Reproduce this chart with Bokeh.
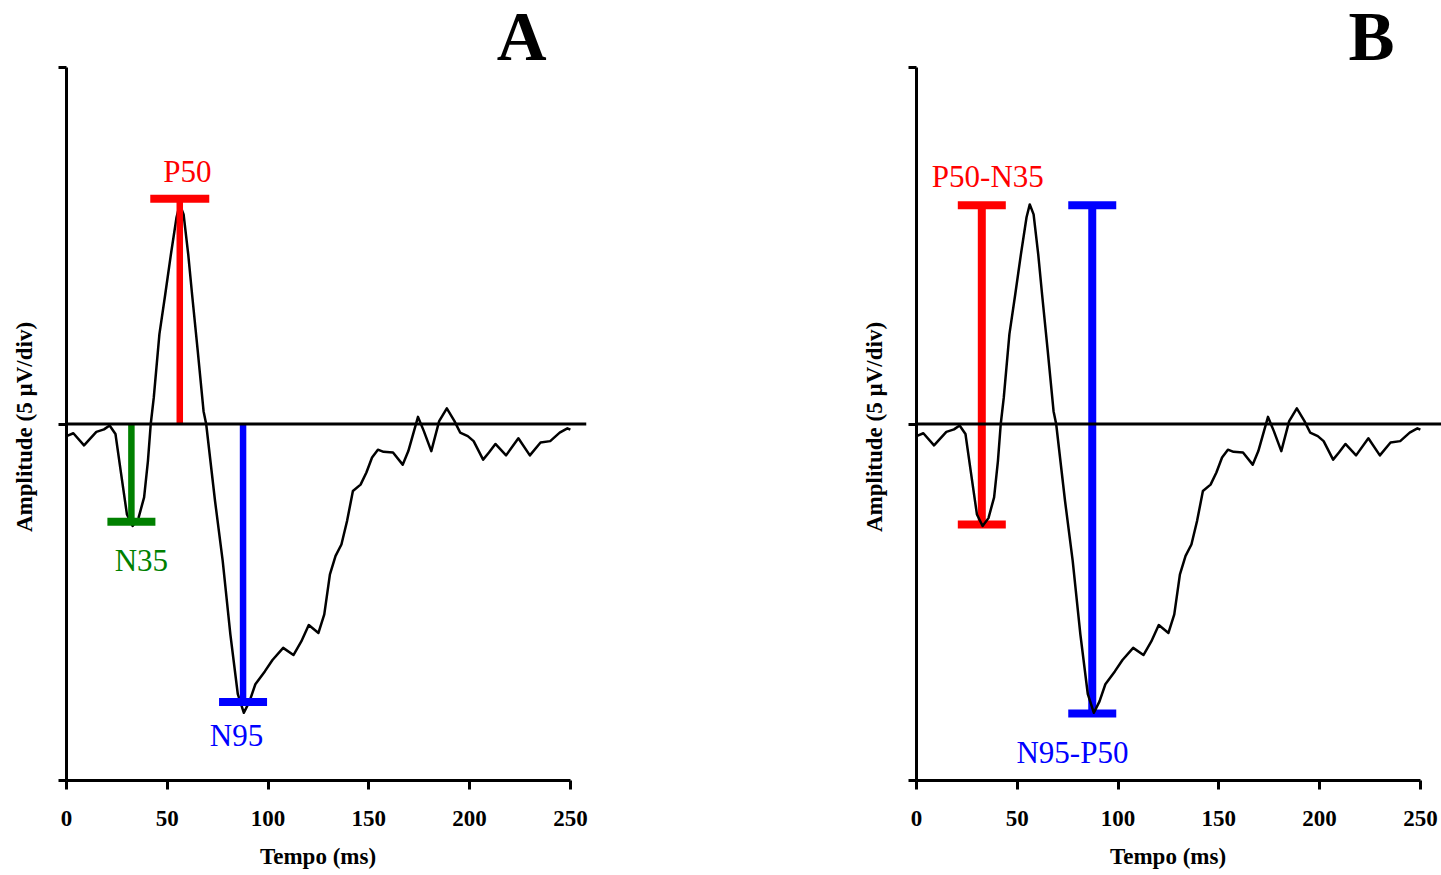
from bokeh.plotting import figure
from bokeh.models import Range1d, FixedTicker, Span, Label, Title, LinearAxis
from bokeh.layouts import row
from bokeh.embed import file_html
from bokeh.resources import INLINE

# Averaged PERG waveform: time (ms) and amplitude (µV)
time_ms = [0, 3.4, 8.7, 14.8, 18.6, 21.4, 24.3, 27.1, 30.0, 32.8, 35.7, 38.5, 40.4,
           41.8, 43.3, 46.1, 49.0, 51.8, 54.6, 56.2, 58.1, 60.4, 62.3, 65.1, 68.0,
           69.3, 73.7, 77.5, 81.3, 85.0, 88.0, 90.8, 93.7, 98.4, 102.2, 107.5,
           112.6, 116.5, 120.2, 125.0, 127.9, 130.7, 133.5, 136.4, 139.2, 142.1,
           145.9, 148.8, 151.6, 154.5, 157.3, 162.0, 166.8, 169.6, 174.4, 177.3,
           181.0, 184.9, 188.7, 192.5, 195.3, 199.1, 202.0, 206.7, 209.6, 212.8,
           218.1, 224.2, 229.9, 235.2, 240.0, 244.7, 248.5, 250.0]
amp_uv = [-0.17, -0.13, -0.30, -0.11, -0.075, -0.02, -0.14, -0.70, -1.27, -1.43, -1.32,
          -1.03, -0.52, 0.0, 0.37, 1.26, 1.82, 2.38, 2.90, 3.08, 2.94, 2.38, 1.82,
          1.03, 0.18, 0.0, -1.08, -1.92, -2.95, -3.79, -4.05, -3.89, -3.65, -3.47,
          -3.31, -3.14, -3.24, -3.05, -2.82, -2.93, -2.67, -2.11, -1.85, -1.69,
          -1.36, -0.94, -0.85, -0.68, -0.47, -0.36, -0.39, -0.40, -0.57, -0.38,
          0.10, -0.10, -0.38, 0.04, 0.22, 0.04, -0.12, -0.17, -0.24, -0.50, -0.40,
          -0.28, -0.44, -0.20, -0.44, -0.26, -0.24, -0.12, -0.06, -0.08]

x_ticks = [0, 50, 100, 150, 200, 250]
y_ticks = [-5, 0, 5]

# Panel A: latency/amplitude of each component
comp_names = ["P50", "N35", "N95"]
comp_time = [56.2, 32.2, 87.6]
comp_amp = [3.16, -1.37, -3.90]

# Panel B: peak-to-peak measurements
pp_names = ["P50-N35", "N95-P50"]
pp_time = [32.4, 87.2]
pp_top = [3.07, 3.07]
pp_bottom = [-1.41, -4.06]

RED, GREEN, BLUE = "#ff0000", "#008000", "#0000ff"
SERIF = "Liberation Serif"
PX_PER_MS = 520 / 258.0
BASE_SHIFT = 0.36  # em; lifts "alphabetic" labels onto their baseline


def spacer_axis(gap, tick):
    # blank axis (one white tick, no label) that only reserves room,
    # so the axis title sits further from the frame
    return LinearAxis(ticker=FixedTicker(ticks=[tick]), axis_line_color=None,
                      major_tick_line_color="white", major_tick_out=gap,
                      major_tick_in=0, minor_tick_out=0, minor_tick_in=0,
                      major_label_standoff=0, major_label_text_font_size="0px",
                      major_label_overrides={tick: ""})


def make_panel(letter, width):
    frame_w = width - 66 if width < 700 else 520
    x_end = frame_w / PX_PER_MS
    p = figure(width=width, height=875,
               x_range=Range1d(0, x_end), y_range=Range1d(-5.0, 5.94),
               output_backend="svg", toolbar_location=None,
               min_border_left=66, min_border_right=width - 66 - frame_w,
               min_border_top=0, min_border_bottom=95)
    p.xgrid.visible = False
    p.ygrid.visible = False
    p.outline_line_color = None
    p.background_fill_color = "white"
    p.border_fill_color = "white"

    xa = p.xaxis[0]
    xa.ticker = FixedTicker(ticks=x_ticks)
    xa.bounds = (0, 250)
    ya = p.yaxis[0]
    ya.ticker = FixedTicker(ticks=y_ticks)
    ya.bounds = (-5, 5)
    ya.major_label_overrides = {t: "" for t in y_ticks}

    for ax in (xa, ya):
        ax.axis_line_width = 3
        ax.axis_line_color = "black"
        ax.major_tick_line_width = 3
        ax.major_tick_line_color = "black"
        ax.major_tick_in = 0
        ax.minor_tick_in = 0
        ax.minor_tick_out = 0
        ax.major_label_text_font = SERIF
        ax.major_label_text_font_style = "bold"
        ax.major_label_text_font_size = "23px"
        ax.major_label_text_color = "black"

    xa.major_tick_out = 9
    xa.major_label_standoff = 21
    ya.major_tick_out = 8
    ya.major_label_standoff = 5

    p.add_layout(spacer_axis(13, 258), "below")
    p.add_layout(spacer_axis(18, 5.9), "left")

    # axis titles centred on the bounded axis spans (0-250 ms, -5..5 µV)
    p.add_layout(Title(text="Tempo (ms)", align="left", offset=193.5, standoff=0,
                       text_font=SERIF, text_font_style="bold", text_font_size="23px",
                       text_color="black"), "below")
    p.add_layout(Title(text="Amplitude (5 µV/div)", align="left", offset=248.5,
                       standoff=8, text_font=SERIF, text_font_style="bold",
                       text_font_size="23px", text_color="black"), "left")

    p.add_layout(Span(location=0, dimension="width", line_color="black", line_width=3))

    p.add_layout(Label(x=225.8, y=5, y_offset=5.5 + BASE_SHIFT * 69, text=letter,
                       text_font=SERIF, text_font_style="bold", text_font_size="69px",
                       text_color="black", text_align="center",
                       text_baseline="alphabetic"))
    return p


def wave(p):
    p.line(time_ms, amp_uv, line_color="black", line_width=2.5, line_join="round")


def label(p, x, y, text, color, dx, dy):
    p.add_layout(Label(x=x, y=y, text=text, x_offset=dx, y_offset=dy + BASE_SHIFT * 31,
                       text_font=SERIF, text_font_size="31px", text_color=color,
                       text_align="center", text_baseline="alphabetic"))


# ---- Panel A: component latencies ----
pa = make_panel("A", 850)
wave(pa)
colors_a = [RED, GREEN, BLUE]
pa.segment(x0=comp_time, y0=[0] * 3, x1=comp_time, y1=comp_amp,
           line_color=colors_a, line_width=6.5)
pa.scatter(comp_time, comp_amp, marker="dash", size=[59, 48, 48],
           line_color=colors_a, line_width=8)
offsets_a = [(7.7, 16.5), (10, -50), (-6.6, -44.2)]
for name, t, a, c, (dx, dy) in zip(comp_names, comp_time, comp_amp, colors_a, offsets_a):
    label(pa, t, a, name, c, dx, dy)

# ---- Panel B: peak-to-peak amplitudes ----
pb = make_panel("B", 591)
colors_b = [RED, BLUE]
pb.segment(x0=pp_time, y0=pp_bottom, x1=pp_time, y1=pp_top,
           line_color=colors_b, line_width=8)
pb.scatter(pp_time, pp_top, marker="dash", size=48, line_color=colors_b, line_width=8)
pb.scatter(pp_time, pp_bottom, marker="dash", size=48, line_color=colors_b, line_width=8)
wave(pb)
label(pb, pp_time[0], pp_top[0], pp_names[0], RED, 6, 17.8)
label(pb, pp_time[1], pp_bottom[1], pp_names[1], BLUE, -19.8, -50.5)

layout = row(pa, pb)
open("out.html", "w").write(file_html(layout, INLINE))
